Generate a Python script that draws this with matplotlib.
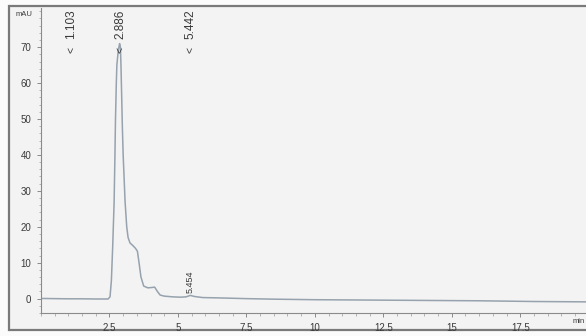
import matplotlib
matplotlib.use("Agg")
from matplotlib import pyplot as plt
from matplotlib.patches import Rectangle
from matplotlib.ticker import MultipleLocator

# chromatogram trace (time in min, signal in mAU)
tempo = [0.0, 0.5, 1.0, 1.5, 2.0, 2.3, 2.45, 2.52, 2.57, 2.62, 2.67, 2.70, 2.72,
         2.75, 2.77, 2.82, 2.87, 2.90, 2.92, 2.95, 2.97, 3.00, 3.07, 3.13, 3.18,
         3.25, 3.35, 3.45, 3.52, 3.58, 3.65, 3.75, 3.90, 4.05, 4.15, 4.25, 4.35,
         4.50, 4.80, 5.10, 5.30, 5.45, 5.60, 5.90, 6.50, 7.50, 8.50, 10.0, 12.0,
         14.0, 16.0, 18.0, 19.9]
sinal = [0.05, 0.0, -0.05, -0.05, -0.1, -0.1, -0.1, 0.5, 5.0, 15.0, 27.0, 40.0, 50.0,
         60.0, 65.0, 69.0, 71.0, 70.0, 65.0, 55.0, 48.0, 40.0, 27.0, 20.0, 17.0,
         15.5, 14.8, 14.0, 13.2, 10.0, 6.0, 3.5, 3.0, 3.1, 3.2, 2.0, 1.0,
         0.7, 0.5, 0.4, 0.5, 0.9, 0.6, 0.3, 0.2, 0.0, -0.15, -0.3, -0.4,
         -0.5, -0.6, -0.8, -0.9]

# picos marcados no topo e pico pequeno
picos_rt = [1.103, 2.886, 5.442]
picos_lbl = ["1.103", "2.886", "5.442"]
pico_peq_rt = 5.454
pico_peq_val = 1.6

xticks = [2.5, 5, 7.5, 10, 12.5, 15, 17.5]
xtick_lbl = ["2.5", "5", "7.5", "10", "12.5", "15", "17.5"]
yticks = [0, 10, 20, 30, 40, 50, 60, 70]

cor_linha = "#96a2ad"
cor_texto = "#3a3a3a"
cor_fundo = "#f3f3f3"

plt.rcParams["font.family"] = ["Liberation Sans", "DejaVu Sans"]

fig = plt.figure(figsize=(5.86, 3.36), dpi=100)
fig.patch.set_facecolor("#fbfbfb")

# moldura cinza em volta do grafico
W, H = 586.0, 336.0
fig.patches.append(Rectangle((9 / W, (H - 330) / H), 1.0, (330 - 6) / H,
                             transform=fig.transFigure, facecolor=cor_fundo,
                             edgecolor="#7a7a7a", linewidth=1.6, zorder=-5))

ax = fig.add_axes([41 / W, (H - 313) / H, 1 - 41 / W, (313 - 8) / H])
ax.set_zorder(2)
ax.patch.set_alpha(0)

ax.plot(tempo, sinal, color=cor_linha, linewidth=1.1)

ax.set_xlim(0, 19.9)
ax.set_ylim(-4.0, 80.9)

ax.spines["top"].set_visible(False)
ax.spines["right"].set_visible(False)
for s in ["left", "bottom"]:
    ax.spines[s].set_color("#8a8a8a")
    ax.spines[s].set_linewidth(0.8)

ax.set_xticks(xticks)
ax.set_xticklabels(xtick_lbl)
ax.set_yticks(yticks)
ax.xaxis.set_minor_locator(MultipleLocator(0.5))
ax.yaxis.set_minor_locator(MultipleLocator(2))
ax.tick_params(which="major", length=3, width=0.7, color="#8a8a8a",
               labelsize=7, labelcolor=cor_texto)
ax.tick_params(axis="x", which="major", pad=4)
ax.tick_params(axis="y", which="major", pad=4)
ax.tick_params(which="minor", length=1.8, width=0.5, color="#9a9a9a")

# rotulos das unidades
ax.text(-0.3, 79.0, "mAU", fontsize=5.5, color=cor_texto, ha="right", va="center")
ax.text(19.85, -6.3, "min", fontsize=5.5, color=cor_texto, ha="right", va="center",
        clip_on=False)

for rt, lbl in zip(picos_rt, picos_lbl):
    ax.text(rt, 69.3, "<", rotation=90, fontsize=7.5, color=cor_texto,
            ha="center", va="center")
    ax.text(rt, 72.3, lbl, rotation=90, fontsize=8.5, color=cor_texto,
            ha="center", va="bottom")

ax.text(pico_peq_rt, pico_peq_val, "5.454", rotation=90, fontsize=6.5,
        color=cor_texto, ha="center", va="bottom")

plt.savefig("out.png", dpi=100, facecolor=fig.get_facecolor())
